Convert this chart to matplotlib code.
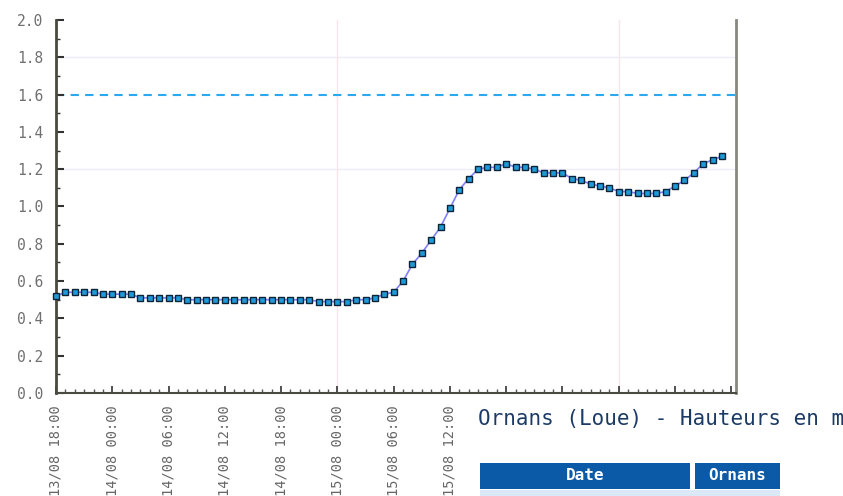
import matplotlib
matplotlib.use("Agg")
import matplotlib.pyplot as plt
from matplotlib.patches import Rectangle
from matplotlib.ticker import MultipleLocator

# hourly water level (m), starting 13/08 18:00
hours = list(range(72))
levels = [0.52, 0.54, 0.54, 0.54, 0.54, 0.53, 0.53, 0.53, 0.53, 0.51,
          0.51, 0.51, 0.51, 0.51, 0.50, 0.50, 0.50, 0.50, 0.50, 0.50,
          0.50, 0.50, 0.50, 0.50, 0.50, 0.50, 0.50, 0.50, 0.49, 0.49,
          0.49, 0.49, 0.50, 0.50, 0.51, 0.53, 0.54, 0.60, 0.69, 0.75,
          0.82, 0.89, 0.99, 1.09, 1.15, 1.20, 1.21, 1.21, 1.23, 1.21,
          1.21, 1.20, 1.18, 1.18, 1.18, 1.15, 1.14, 1.12, 1.11, 1.10,
          1.08, 1.08, 1.07, 1.07, 1.07, 1.08, 1.11, 1.14, 1.18, 1.23,
          1.25, 1.27]
alert_level = 1.6

tick_hours = list(range(0, 73, 6))
tick_labels = ["13/08 18:00", "14/08 00:00", "14/08 06:00", "14/08 12:00",
               "14/08 18:00", "15/08 00:00", "15/08 06:00", "15/08 12:00"]

title_text = "Ornans (Loue) - Hauteurs en m"
table_cols = ["Date", "Ornans"]

fig = plt.figure(figsize=(8.43, 4.96), dpi=100)
ax = fig.add_axes([56 / 843, 103 / 496, 680 / 843, 373 / 496])

# grid lines
for y in [1.2, 1.8]:
    ax.axhline(y, color="#ececfb", lw=1, zorder=0)
for x in [30, 60]:
    ax.axvline(x, color="#fbe3e8", lw=1, zorder=0)

ax.axhline(alert_level, color="#2aa8f0", lw=1.5, ls=(0, (4, 3)), zorder=1)

ax.plot(hours, levels, color="#8080ff", lw=1.2, marker="s", markersize=4.8,
        markerfacecolor="#1e9ad6", markeredgecolor="#0d2438", markeredgewidth=1.0,
        zorder=3, clip_on=False)

ax.set_xlim(0, 72.5)
ax.set_ylim(0, 2.0)

ax.yaxis.set_major_locator(MultipleLocator(0.2))
ax.yaxis.set_minor_locator(MultipleLocator(0.1))
ax.set_yticklabels([f"{v:.1f}" for v in ax.get_yticks()])
ax.set_xticks(tick_hours)
ax.set_xticklabels(tick_labels + [""] * (len(tick_hours) - len(tick_labels)),
                   rotation=90, family="DejaVu Sans Mono", fontsize=9.8, color="#666666")
ax.xaxis.set_minor_locator(MultipleLocator(1))

ax.tick_params(axis="y", which="major", direction="in", length=6, width=1.5,
               color="#333333", labelsize=10.5, labelcolor="#707070", pad=9)
ax.tick_params(axis="y", which="minor", direction="in", length=3, width=1, color="#333333")
ax.tick_params(axis="x", which="major", direction="in", length=5, width=1.2,
               color="#333333", pad=9)
ax.tick_params(axis="x", which="minor", direction="in", length=3, width=1, color="#555555")
for lab in ax.get_yticklabels():
    lab.set_family("DejaVu Sans Mono")

ax.spines["top"].set_visible(False)
ax.spines["left"].set_color("#4a4a40")
ax.spines["left"].set_linewidth(2)
ax.spines["bottom"].set_color("#4a4a40")
ax.spines["bottom"].set_linewidth(1.5)
ax.spines["right"].set_color("#888880")
ax.spines["right"].set_linewidth(2)

# page title and table header below the chart
fig.text(478 / 843, (496 - 419) / 496, title_text, fontsize=15, color="#1c3a66",
         family="DejaVu Sans Mono", va="center", ha="left")
fig.patches.append(Rectangle((480 / 843, (496 - 489) / 496), 210 / 843, 26 / 496,
                             transform=fig.transFigure, facecolor="#0b5aa8", edgecolor="none"))
fig.patches.append(Rectangle((695 / 843, (496 - 489) / 496), 85 / 843, 26 / 496,
                             transform=fig.transFigure, facecolor="#0b5aa8", edgecolor="none"))
fig.patches.append(Rectangle((480 / 843, 0), 300 / 843, 6 / 496,
                             transform=fig.transFigure, facecolor="#dbe8f7", edgecolor="none"))
fig.text(585 / 843, (496 - 476) / 496, table_cols[0], fontsize=11.5, color="white",
         family="DejaVu Sans Mono", weight="bold", ha="center", va="center")
fig.text(737 / 843, (496 - 476) / 496, table_cols[1], fontsize=11.5, color="white",
         family="DejaVu Sans Mono", weight="bold", ha="center", va="center")

fig.savefig("out.png", dpi=100)
